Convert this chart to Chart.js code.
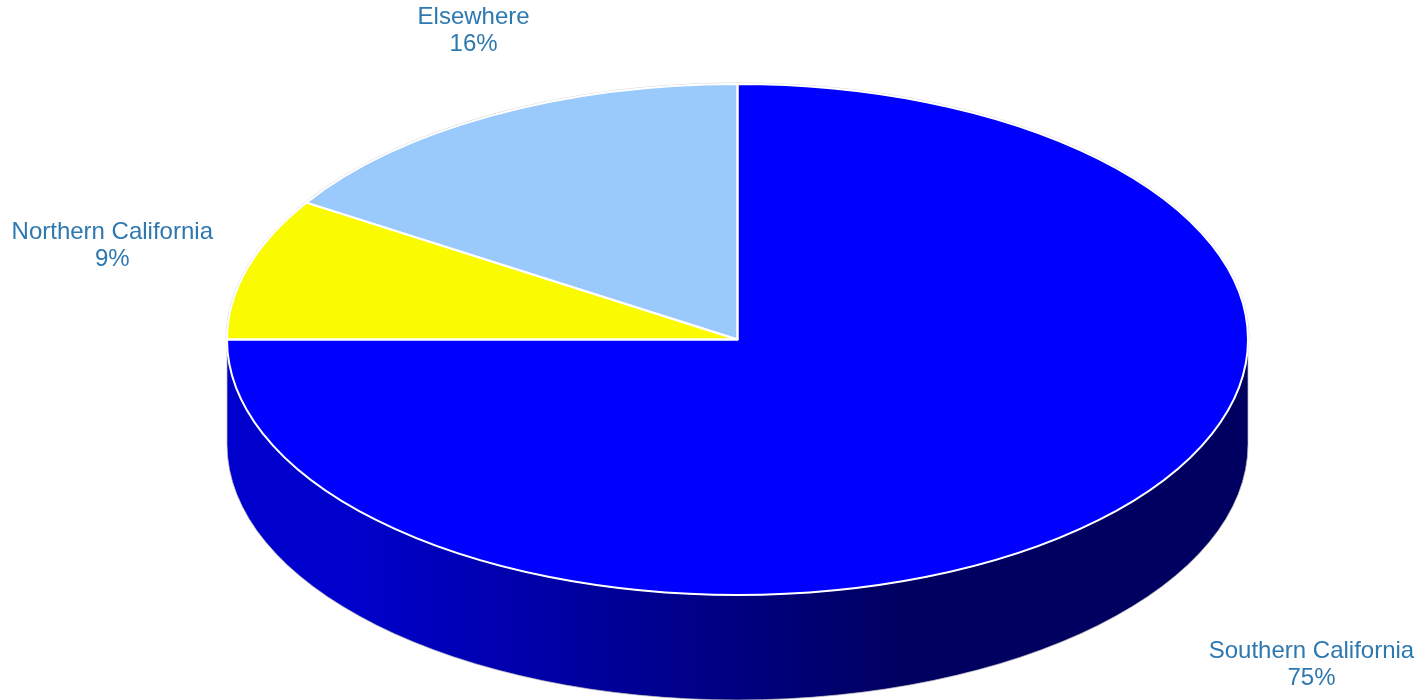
<!DOCTYPE html>
<html>
<head>
<meta charset="utf-8">
<style>html,body{margin:0;padding:0;background:#fff}canvas{display:block}</style>
<script src="https://cdn.jsdelivr.net/npm/chart.js@4"></script>
</head>
<body>
<canvas id="c" width="1421" height="700"></canvas>
<script>
const categories = ["Southern California", "Northern California", "Elsewhere"];
const shares = [75, 9, 16];
const sliceColors = ["#0000FF", "#FAFA00", "#99CAFB"];
const labelOffsets = [[213, 138], [-135, -29], [-18, -92]];

const ELLIPSE = {cx: 737.5, cy: 339.5, rx: 510.5, ry: 255.5, depth: 105};
const FONT = '24px "Liberation Sans", Arial, sans-serif';
const LABEL_COLOR = "#2E78B0";

const pie3d = {
  id: "pie3d",
  beforeDatasetsDraw(chart) {
    const ctx = chart.ctx, E = ELLIPSE, arcs = chart.getDatasetMeta(0).data;
    // side wall
    const g = ctx.createLinearGradient(E.cx - E.rx, 0, E.cx + E.rx, 0);
    g.addColorStop(0, "#0000CC");
    g.addColorStop(0.12, "#0000CC");
    g.addColorStop(0.66, "#000060");
    g.addColorStop(1, "#000060");
    arcs.forEach(a => {
      const s = Math.max(a.startAngle, 0), e = Math.min(a.endAngle, Math.PI);
      if (e <= s) return;
      ctx.beginPath();
      ctx.ellipse(E.cx, E.cy, E.rx, E.ry, 0, s, e, false);
      ctx.ellipse(E.cx, E.cy + E.depth, E.rx, E.ry, 0, e, s, true);
      ctx.closePath();
      ctx.fillStyle = g;
      ctx.fill();
      ctx.strokeStyle = "rgba(190,190,190,0.7)";
      ctx.lineWidth = 1;
      ctx.stroke();
    });
    // squash the library's circular pie onto the ellipse
    const a0 = arcs[0], k = a0.outerRadius;
    ctx.save();
    ctx.translate(E.cx, E.cy);
    ctx.scale(E.rx / k, E.ry / k);
    ctx.translate(-a0.x, -a0.y);
  },
  afterDatasetsDraw(chart) {
    const ctx = chart.ctx, E = ELLIPSE, arcs = chart.getDatasetMeta(0).data;
    ctx.restore();
    // faint rim, then white slice outlines of even width
    ctx.beginPath();
    ctx.ellipse(E.cx, E.cy, E.rx + 1, E.ry + 1, 0, Math.PI, 2 * Math.PI);
    ctx.strokeStyle = "rgba(170,170,170,0.6)";
    ctx.lineWidth = 0.8;
    ctx.stroke();
    arcs.forEach(a => {
      ctx.beginPath();
      ctx.moveTo(E.cx, E.cy);
      ctx.ellipse(E.cx, E.cy, E.rx, E.ry, 0, a.startAngle, a.endAngle);
      ctx.closePath();
      ctx.strokeStyle = "#FFFFFF";
      ctx.lineWidth = 2;
      ctx.lineJoin = "round";
      ctx.stroke();
    });
    // labels
    ctx.font = FONT;
    ctx.fillStyle = LABEL_COLOR;
    ctx.textAlign = "center";
    ctx.textBaseline = "alphabetic";
    arcs.forEach((a, i) => {
      const m = (a.startAngle + a.endAngle) / 2;
      const x = E.cx + E.rx * Math.cos(m) + labelOffsets[i][0];
      const y = E.cy + E.ry * Math.sin(m) + labelOffsets[i][1];
      ctx.fillText(categories[i], x, y);
      ctx.fillText(shares[i] + "%", x, y + 27);
    });
  }
};

new Chart(document.getElementById("c"), {
  type: "pie",
  data: {
    labels: categories,
    datasets: [{data: shares, backgroundColor: sliceColors, borderWidth: 0, clip: false}]
  },
  options: {
    responsive: false,
    animation: false,
    devicePixelRatio: 1,
    layout: {padding: 0},
    plugins: {legend: {display: false}, tooltip: {enabled: false}}
  },
  plugins: [pie3d]
});
</script>
</body>
</html>
